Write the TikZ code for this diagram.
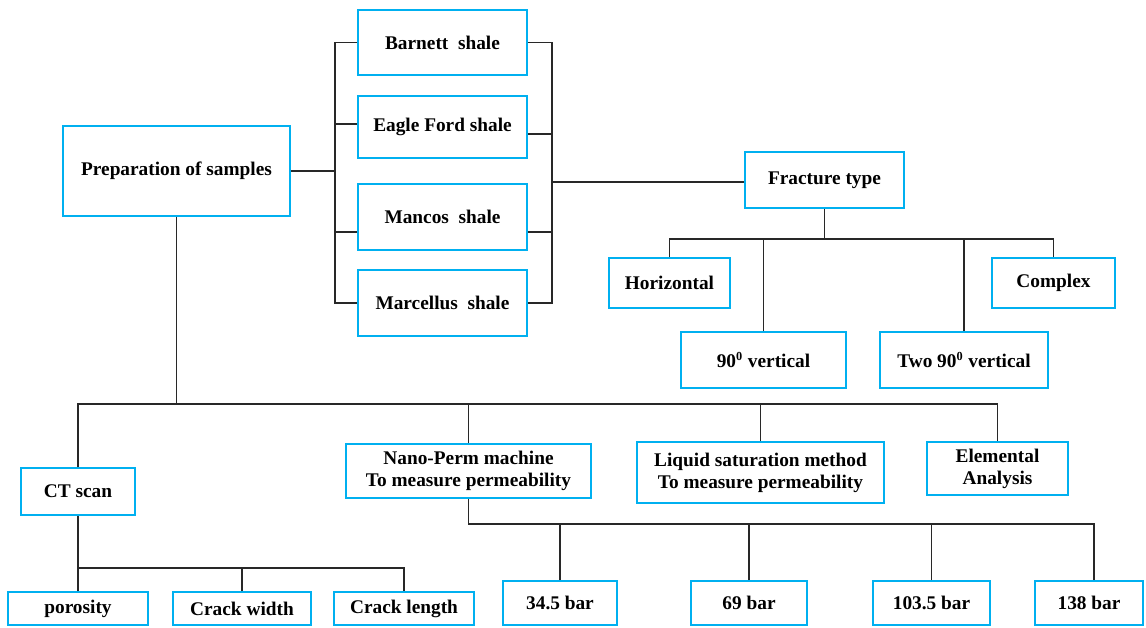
\documentclass[tikz,border=0pt]{standalone}
\usepackage{fontspec}
\setmainfont{Liberation Serif}
\usetikzlibrary{positioning}
\definecolor{cajaazul}{RGB}{0,176,240}
\definecolor{lineagris}{RGB}{40,40,40}
\tikzset{caja/.style={draw=cajaazul, line width=1.1pt, rectangle, align=center, inner sep=0pt, font=\fontsize{11}{12.5}\selectfont\bfseries}}
\tikzset{linea/.style={draw=lineagris, line width=0.9pt}}

\begin{document}
\begin{tikzpicture}[x=0.02cm, y=-0.02cm]
    \useasboundingbox (0,0) rectangle (1146,627);
    % muestras y lutitas
    \node[caja, minimum width=4.54cm, minimum height=1.8cm] (prep) at (176.5,171) {Preparation of samples};
    \node[caja, minimum width=3.38cm, minimum height=1.3cm] (barnett) at (442.5,42.5) {Barnett\ \ shale};
    \node[caja, minimum width=3.38cm, minimum height=1.24cm] (eagle) at (442.5,127) {Eagle Ford shale};
    \node[caja, minimum width=3.38cm, minimum height=1.32cm] (mancos) at (442.5,217) {Mancos\ \ shale};
    \node[caja, minimum width=3.38cm, minimum height=1.32cm] (marcellus) at (442.5,303) {Marcellus\ \ shale};
    % tipo de fractura
    \node[caja, minimum width=3.18cm, minimum height=1.12cm] (fracture) at (824.5,180) {Fracture type};
    \node[caja, minimum width=2.42cm, minimum height=1cm] (horizontal) at (669.5,283) {Horizontal};
    \node[caja, minimum width=3.3cm, minimum height=1.12cm] (vert90) at (763.5,360) {90\textsuperscript{\scriptsize 0} vertical};
    \node[caja, minimum width=3.36cm, minimum height=1.12cm] (twovert) at (964,360) {Two 90\textsuperscript{\scriptsize 0} vertical};
    \node[caja, minimum width=2.46cm, minimum height=1cm] (complex) at (1053.5,283) {Complex};
    % ensayos
    \node[caja, minimum width=2.28cm, minimum height=0.94cm] (ctscan) at (78,491.5) {CT scan};
    \node[caja, minimum width=4.9cm, minimum height=1.08cm] (nanoperm) at (468.5,471) {Nano-Perm machine\\To measure permeability};
    \node[caja, minimum width=4.94cm, minimum height=1.22cm] (liquid) at (760.5,472.5) {Liquid saturation method\\To measure permeability};
    \node[caja, minimum width=2.82cm, minimum height=1.06cm] (elemental) at (997.5,468.5) {Elemental\\Analysis};
    % resultados
    \node[caja, minimum width=2.8cm, minimum height=0.66cm] (porosity) at (78,608.5) {porosity};
    \node[caja, minimum width=2.76cm, minimum height=0.66cm] (crackw) at (242,608.5) {Crack width};
    \node[caja, minimum width=2.8cm, minimum height=0.66cm] (crackl) at (404,608.5) {Crack length};
    \node[caja, minimum width=2.28cm, minimum height=0.88cm] (bar345) at (560,603) {34.5 bar};
    \node[caja, minimum width=2.32cm, minimum height=0.88cm] (bar69) at (749,603) {69 bar};
    \node[caja, minimum width=2.34cm, minimum height=0.88cm] (bar1035) at (931.5,603) {103.5 bar};
    \node[caja, minimum width=2.16cm, minimum height=0.88cm] (bar138) at (1089,603) {138 bar};

    % barras de union
    \coordinate (li) at (335,171);
    \coordinate (ld) at (552,182);
    \coordinate (fb) at (824.5,239);
    \coordinate (mb) at (176.5,404);
    \coordinate (cb) at (78,568);
    \coordinate (pb) at (468.5,524);

    \draw[linea] (prep.east) -- (li);
    \draw[linea] (barnett.west) -| (li) |- (marcellus.west);
    \draw[linea] ([yshift=0.06cm]eagle.west) -- ([yshift=0.06cm]eagle.west -| li);
    \draw[linea] ([yshift=-0.3cm]mancos.west) -- ([yshift=-0.3cm]mancos.west -| li);

    \draw[linea] (barnett.east) -| (ld) |- (marcellus.east);
    \draw[linea] ([yshift=-0.14cm]eagle.east) -- ([yshift=-0.14cm]eagle.east -| ld);
    \draw[linea] ([yshift=-0.3cm]mancos.east) -- ([yshift=-0.3cm]mancos.east -| ld);
    \draw[linea] (ld) -- (fracture.west |- ld);

    \draw[linea] (fracture.south) -- (fb);
    \draw[linea] (horizontal.north) |- (fb) -| (complex.north);
    \draw[linea] (vert90.north) -- (vert90.north |- fb);
    \draw[linea] (twovert.north) -- (twovert.north |- fb);

    \draw[linea] (prep.south) -- (mb);
    \draw[linea] (ctscan.north) |- (mb) -| (elemental.north);
    \draw[linea] (nanoperm.north) -- (nanoperm.north |- mb);
    \draw[linea] (liquid.north) -- (liquid.north |- mb);

    \draw[linea] (ctscan.south) -- (cb);
    \draw[linea] (porosity.north) |- (cb) -| (crackl.north);
    \draw[linea] (crackw.north) -- (crackw.north |- cb);

    \draw[linea] (nanoperm.south) -- (pb) -| ([xshift=0.1cm]bar138.north);
    \draw[linea] (bar345.north) -- (bar345.north |- pb);
    \draw[linea] (bar69.north) -- (bar69.north |- pb);
    \draw[linea] (bar1035.north) -- (bar1035.north |- pb);
\end{tikzpicture}
\end{document}
